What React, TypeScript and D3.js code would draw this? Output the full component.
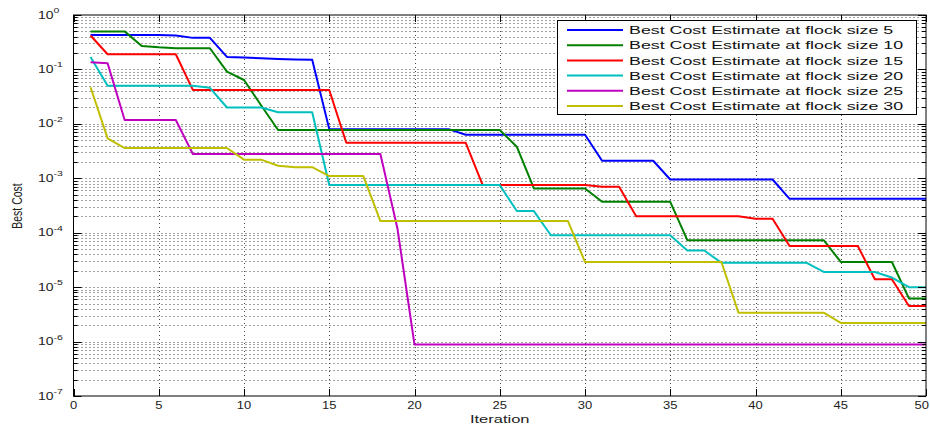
import React, { useRef, useEffect } from 'react';
import * as d3 from 'd3';

// iteration index (x axis)
const iterations = [
  1, 2, 3, 4, 5, 6, 7, 8, 9, 10, 11, 12, 13, 14, 15, 16, 17, 18, 19, 20, 21, 22, 23, 24, 25,
  26, 27, 28, 29, 30, 31, 32, 33, 34, 35, 36, 37, 38, 39, 40, 41, 42, 43, 44, 45, 46, 47, 48, 49, 50,
];

const flock5 = [
  0.43, 0.43, 0.43, 0.43, 0.43, 0.42, 0.38, 0.38, 0.17, 0.165, 0.16, 0.155, 0.152, 0.15,
  0.008, 0.008, 0.008, 0.008, 0.008, 0.008, 0.008, 0.008,
  0.0063, 0.0063, 0.0063, 0.0063, 0.0063, 0.0063, 0.0063, 0.0063,
  0.0021, 0.0021, 0.0021, 0.0021,
  0.00095, 0.00095, 0.00095, 0.00095, 0.00095, 0.00095, 0.00095,
  0.00042, 0.00042, 0.00042, 0.00042, 0.00042, 0.00042, 0.00042, 0.00042, 0.00042,
];
const flock10 = [
  0.5, 0.5, 0.5, 0.27, 0.255, 0.245, 0.245, 0.245, 0.091, 0.064, 0.022,
  0.0077, 0.0077, 0.0077, 0.0077, 0.0077, 0.0077, 0.0077, 0.0077, 0.0077, 0.0077, 0.0077, 0.0077, 0.0077, 0.0077,
  0.0038, 0.00065, 0.00065, 0.00065, 0.00065,
  0.00037, 0.00037, 0.00037, 0.00037, 0.00037,
  7.3e-5, 7.3e-5, 7.3e-5, 7.3e-5, 7.3e-5, 7.3e-5, 7.3e-5, 7.3e-5, 7.3e-5,
  2.9e-5, 2.9e-5, 2.9e-5, 2.9e-5, 6.2e-6, 6.2e-6,
];
const flock15 = [
  0.42, 0.19, 0.19, 0.19, 0.19, 0.19,
  0.042, 0.042, 0.042, 0.042, 0.042, 0.042, 0.042, 0.042, 0.042,
  0.0045, 0.0045, 0.0045, 0.0045, 0.0045, 0.0045, 0.0045, 0.0045,
  0.00075, 0.00075, 0.00075, 0.00075, 0.00075, 0.00075, 0.00075, 0.0007, 0.0007,
  0.0002, 0.0002, 0.0002, 0.0002, 0.0002, 0.0002, 0.0002, 0.00018, 0.00018,
  5.7e-5, 5.7e-5, 5.7e-5, 5.7e-5, 5.7e-5, 1.4e-5, 1.4e-5, 4.5e-6, 4.5e-6,
];
const flock20 = [
  0.17, 0.05, 0.05, 0.05, 0.05, 0.05, 0.05, 0.046, 0.02, 0.02, 0.02, 0.0163, 0.0163, 0.0163,
  0.00075, 0.00075, 0.00075, 0.00075, 0.00075, 0.00075, 0.00075, 0.00075, 0.00075, 0.00075, 0.00075,
  0.00025, 0.00025, 9e-5, 9e-5, 9e-5, 9e-5, 9e-5, 9e-5, 9e-5, 9e-5,
  4.7e-5, 4.7e-5, 2.8e-5, 2.8e-5, 2.8e-5, 2.8e-5, 2.8e-5, 2.8e-5,
  1.9e-5, 1.9e-5, 1.9e-5, 1.9e-5, 1.5e-5, 1.0e-5, 1.0e-5,
];
const flock25 = [
  0.135, 0.13, 0.0118, 0.0118, 0.0118, 0.0118,
  0.0028, 0.0028, 0.0028, 0.0028, 0.0028, 0.0028, 0.0028, 0.0028, 0.0028, 0.0028, 0.0028, 0.0028,
  1.2e-4,
  8.8e-7, 8.8e-7, 8.8e-7, 8.8e-7, 8.8e-7, 8.8e-7, 8.8e-7, 8.8e-7, 8.8e-7, 8.8e-7, 8.8e-7,
  8.8e-7, 8.8e-7, 8.8e-7, 8.8e-7, 8.8e-7, 8.8e-7, 8.8e-7, 8.8e-7, 8.8e-7, 8.8e-7, 8.8e-7,
  8.8e-7, 8.8e-7, 8.8e-7, 8.8e-7, 8.8e-7, 8.8e-7, 8.8e-7, 8.8e-7, 8.8e-7, 8.8e-7,
];
const flock30 = [
  0.047, 0.0054, 0.0036, 0.0036, 0.0036, 0.0036, 0.0036, 0.0036, 0.0036,
  0.0022, 0.0022, 0.0017, 0.0016, 0.0016, 0.0011, 0.0011, 0.0011,
  1.64e-4, 1.64e-4, 1.64e-4, 1.64e-4, 1.64e-4, 1.64e-4, 1.64e-4, 1.64e-4, 1.64e-4, 1.64e-4, 1.64e-4, 1.64e-4,
  2.9e-5, 2.9e-5, 2.9e-5, 2.9e-5, 2.9e-5, 2.9e-5, 2.9e-5, 2.9e-5, 2.9e-5,
  3.4e-6, 3.4e-6, 3.4e-6, 3.4e-6, 3.4e-6, 3.4e-6,
  2.2e-6, 2.2e-6, 2.2e-6, 2.2e-6, 2.2e-6, 2.2e-6,
];

const seriesNames = [
  'Best Cost Estimate at flock size 5',
  'Best Cost Estimate at flock size 10',
  'Best Cost Estimate at flock size 15',
  'Best Cost Estimate at flock size 20',
  'Best Cost Estimate at flock size 25',
  'Best Cost Estimate at flock size 30',
];
const seriesValues = [flock5, flock10, flock15, flock20, flock25, flock30];
const seriesColors = ['#0000ff', '#008000', '#ff0000', '#00bfbf', '#bf00bf', '#bfbf00'];

const xTicks = [0, 5, 10, 15, 20, 25, 30, 35, 40, 45, 50];
const yExponents = [0, -1, -2, -3, -4, -5, -6, -7];

const FONT = '"Liberation Sans", Arial, Helvetica, sans-serif';

const App = () => {
  const svgRef = useRef(null);
  const width = 930;
  const height = 427;

  useEffect(() => {
    const svg = d3.select(svgRef.current);
    svg.selectAll('*').remove();

    const left = 73.5, right = 926, top = 15, bottom = 396;

    const x = d3.scaleLinear().domain([0, 50]).range([left, right]);
    const y = d3.scaleLog().domain([1e-7, 1]).range([bottom, top]);

    svg.append('rect').attr('width', width).attr('height', height).attr('fill', '#fff');

    // minor log values for grid + ticks
    const minorVals = [];
    for (let e = -7; e < 0; e++) {
      for (let k = 2; k <= 9; k++) minorVals.push(k * Math.pow(10, e));
    }
    const majorVals = yExponents.map(e => Math.pow(10, e));

    // dotted grid
    const grid = svg.append('g')
      .attr('stroke', '#444')
      .attr('stroke-width', 1)
      .attr('stroke-dasharray', '1,3');
    grid.selectAll('.hg')
      .data(majorVals.concat(minorVals).filter(v => v < 1 && v > 1e-7))
      .enter().append('line')
      .attr('x1', left).attr('x2', right)
      .attr('y1', d => Math.round(y(d)) + 0.5)
      .attr('y2', d => Math.round(y(d)) + 0.5);
    grid.selectAll('.vg')
      .data(xTicks.filter(t => t > 0 && t < 50))
      .enter().append('line')
      .attr('y1', top).attr('y2', bottom)
      .attr('x1', d => Math.round(x(d)) + 0.5)
      .attr('x2', d => Math.round(x(d)) + 0.5);

    // lines
    const line = d3.line()
      .x((d, i) => x(iterations[i]))
      .y(d => y(d));

    seriesValues.forEach((vals, i) => {
      svg.append('path')
        .attr('d', line(vals))
        .attr('fill', 'none')
        .attr('stroke', seriesColors[i])
        .attr('stroke-width', 2)
        .attr('stroke-linejoin', 'round');
    });

    // axes box and ticks
    const axes = svg.append('g').attr('stroke', '#000').attr('stroke-width', 1);
    axes.append('rect')
      .attr('x', left).attr('y', top)
      .attr('width', right - left).attr('height', bottom - top)
      .attr('fill', 'none');

    xTicks.forEach(t => {
      const px = Math.round(x(t)) + 0.5;
      axes.append('line').attr('x1', px).attr('x2', px).attr('y1', bottom).attr('y2', bottom - 7);
      axes.append('line').attr('x1', px).attr('x2', px).attr('y1', top).attr('y2', top + 7);
    });
    majorVals.forEach(v => {
      const py = Math.round(y(v)) + 0.5;
      axes.append('line').attr('x1', left).attr('x2', left + 8).attr('y1', py).attr('y2', py);
      axes.append('line').attr('x1', right).attr('x2', right - 8).attr('y1', py).attr('y2', py);
    });
    minorVals.forEach(v => {
      const py = Math.round(y(v)) + 0.5;
      axes.append('line').attr('x1', left).attr('x2', left + 4).attr('y1', py).attr('y2', py);
      axes.append('line').attr('x1', right).attr('x2', right - 4).attr('y1', py).attr('y2', py);
    });

    // x tick labels (last one pulled in so it stays inside the page)
    xTicks.forEach(t => {
      const isLast = t === 50;
      svg.append('text')
        .attr('transform', `translate(${isLast ? 929 : x(t)},${408.5}) scale(1.3,1)`)
        .attr('text-anchor', isLast ? 'end' : 'middle')
        .attr('font-family', FONT)
        .attr('font-size', 10)
        .attr('fill', '#222')
        .text(t);
    });

    // y tick labels 10^n
    yExponents.forEach(e => {
      const t = svg.append('text')
        .attr('transform', `translate(38,${y(Math.pow(10, e)) + 3.5}) scale(1.4,1)`)
        .attr('font-family', FONT)
        .attr('font-size', 10)
        .attr('fill', '#222');
      t.append('tspan').text('10');
      t.append('tspan').attr('dy', -5.5).attr('font-size', 7.5).text(String(e));
    });

    // axis titles
    svg.append('text')
      .attr('transform', `translate(499.75,422.5) scale(1.5,1)`)
      .attr('text-anchor', 'middle')
      .attr('font-family', FONT)
      .attr('font-size', 11)
      .attr('fill', '#222')
      .text('Iteration');
    svg.append('text')
      .attr('transform', `translate(22,206) scale(1.4,1) rotate(-90)`)
      .attr('text-anchor', 'middle')
      .attr('font-family', FONT)
      .attr('font-size', 10.5)
      .attr('fill', '#222')
      .text('Best Cost');

    // legend
    const legend = svg.append('g');
    legend.append('rect')
      .attr('x', 557.5).attr('y', 20.5)
      .attr('width', 359).attr('height', 94)
      .attr('fill', '#fff').attr('stroke', '#000');
    seriesNames.forEach((name, i) => {
      const cy = 30 + i * 15.2;
      legend.append('line')
        .attr('x1', 567).attr('x2', 623)
        .attr('y1', cy).attr('y2', cy)
        .attr('stroke', seriesColors[i]).attr('stroke-width', 2);
      legend.append('text')
        .attr('transform', `translate(629,${cy + 4.2}) scale(1.55,1)`)
        .attr('font-family', FONT)
        .attr('font-size', 11.5)
        .attr('fill', '#111')
        .text(name);
    });
  }, []);

  return (
    <svg
      ref={svgRef}
      width={width}
      height={height}
      style={{ position: 'absolute', left: 0, top: 0 }}
    ></svg>
  );
};

export default App;
